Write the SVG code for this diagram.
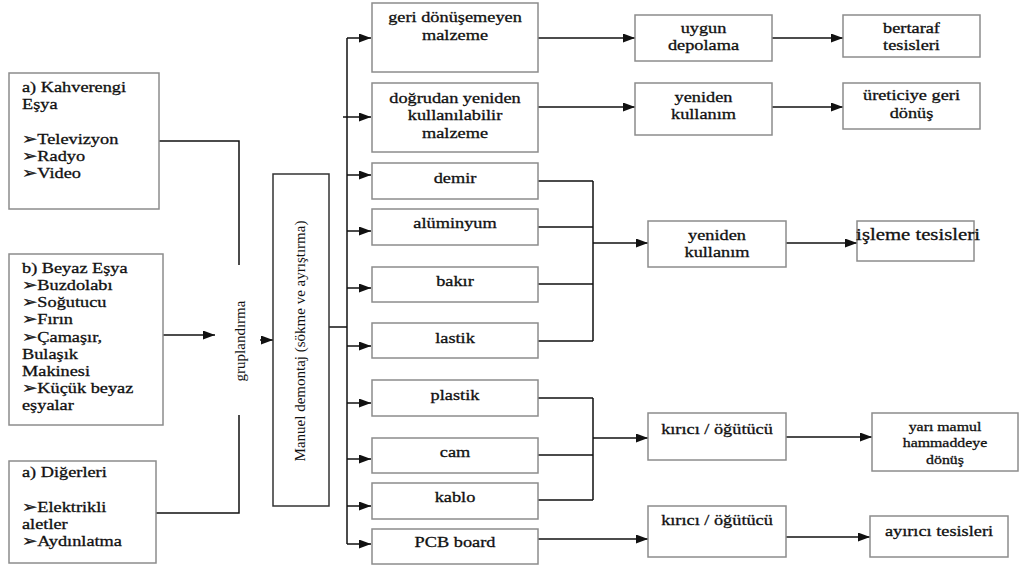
<svg xmlns="http://www.w3.org/2000/svg" width="1022" height="566" viewBox="0 0 1022 566">
<defs>
<marker id="ah" markerUnits="userSpaceOnUse" markerWidth="12" markerHeight="9" refX="12" refY="4.5" orient="auto">
<path d="M0,0 L12,4.5 L0,9 z" fill="#111"/>
</marker>
<style>
.box{fill:#fff;stroke:#8c8c8c;stroke-width:1.5}
.dark{fill:#fff;stroke:#333;stroke-width:1.5}
.t{font-family:"Liberation Serif","Times New Roman",serif;font-size:15px;fill:#111;stroke:#111;stroke-width:0.3;text-anchor:middle}
.tl{font-family:"Liberation Serif","Times New Roman",serif;font-size:15px;fill:#111;stroke:#111;stroke-width:0.3;text-anchor:start}
.tv{font-family:"Liberation Serif","Times New Roman",serif;font-size:15px;fill:#111;text-anchor:middle}
.sm{font-size:13px}
.ln{fill:none;stroke:#111;stroke-width:1.5}
.ar{fill:none;stroke:#111;stroke-width:1.5;marker-end:url(#ah)}
</style>
</defs>
<rect width="1022" height="566" fill="#fff"/>

<g id="connectors">
<path class="ln" d="M159,141 H239 V265"/>
<path class="ln" d="M156,513 H239 V415"/>
<path class="ar" d="M163,335 H215"/>
<path class="ar" d="M260,340 H273"/>
<path class="ln" d="M329,327 H347"/>
<path class="ln" d="M347,38 V544"/>
<path class="ar" d="M347,38 H371"/>
<path class="ar" d="M343,117 H371"/>
<path class="ar" d="M347,175 H371"/>
<path class="ar" d="M347,231 H371"/>
<path class="ar" d="M347,288 H371"/>
<path class="ar" d="M347,346 H371"/>
<path class="ar" d="M347,403 H371"/>
<path class="ar" d="M347,459 H371"/>
<path class="ar" d="M347,506 H371"/>
<path class="ar" d="M347,544 H371"/>
<path class="ar" d="M538,38 H635"/>
<path class="ar" d="M538,107 H635"/>
<path class="ar" d="M772,38 H843"/>
<path class="ar" d="M772,107 H843"/>
<path class="ln" d="M538,181 H593 M538,227 H593 M538,284 H593 M538,341 H593 M593,181 V341"/>
<path class="ar" d="M593,243 H648"/>
<path class="ar" d="M786,243 H857"/>
<path class="ln" d="M538,398 H593 M538,455 H593 M538,500 H593 M593,398 V500"/>
<path class="ar" d="M593,438 H648"/>
<path class="ar" d="M786,437 H872"/>
<path class="ar" d="M538,539 H648"/>
<path class="ar" d="M786,537 H870"/>
</g>

<g id="kahverengi">
<rect class="box" x="9" y="73" width="150" height="136"/>
<text class="tl" transform="translate(22,92) scale(1.22,1)">a) Kahverengi</text>
<text class="tl" transform="translate(22,109) scale(1.22,1)">Eşya</text>
<text class="tl" transform="translate(22,144) scale(1.22,1)">➢Televizyon</text>
<text class="tl" transform="translate(22,161) scale(1.22,1)">➢Radyo</text>
<text class="tl" transform="translate(22,178) scale(1.22,1)">➢Video</text>
</g>

<g id="beyaz">
<rect class="box" x="9" y="254" width="154" height="171"/>
<text class="tl" transform="translate(22,273) scale(1.22,1)">b) Beyaz Eşya</text>
<text class="tl" transform="translate(22,290) scale(1.22,1)">➢Buzdolabı</text>
<text class="tl" transform="translate(22,307) scale(1.22,1)">➢Soğutucu</text>
<text class="tl" transform="translate(22,324) scale(1.22,1)">➢Fırın</text>
<text class="tl" transform="translate(22,342) scale(1.22,1)">➢Çamaşır,</text>
<text class="tl" transform="translate(22,359) scale(1.22,1)">Bulaşık</text>
<text class="tl" transform="translate(22,376) scale(1.22,1)">Makinesi</text>
<text class="tl" transform="translate(22,393) scale(1.22,1)">➢Küçük beyaz</text>
<text class="tl" transform="translate(22,410) scale(1.22,1)">eşyalar</text>
</g>

<g id="digerleri">
<rect class="box" x="9" y="461" width="147" height="102"/>
<text class="tl" transform="translate(22,477) scale(1.22,1)">a) Diğerleri</text>
<text class="tl" transform="translate(22,512) scale(1.22,1)">➢Elektrikli</text>
<text class="tl" transform="translate(22,529) scale(1.22,1)">aletler</text>
<text class="tl" transform="translate(22,546) scale(1.22,1)">➢Aydınlatma</text>
</g>

<g id="gruplandirma">
<text class="tv" transform="translate(245,341) rotate(-90)">gruplandırma</text>
</g>

<g id="manuel">
<rect class="dark" x="273" y="174" width="56" height="332"/>
<text class="tv" transform="translate(305,341) rotate(-90)">Manuel demontaj (sökme ve ayrıştırma)</text>
</g>

<g id="geri">
<rect class="box" x="372" y="3" width="166" height="69"/>
<text class="t" transform="translate(455,22) scale(1.22,1)">geri dönüşemeyen</text>
<text class="t" transform="translate(455,40) scale(1.22,1)">malzeme</text>
</g>
<g id="dogrudan">
<rect class="box" x="372" y="83" width="166" height="69"/>
<text class="t" transform="translate(455,103) scale(1.22,1)">doğrudan yeniden</text>
<text class="t" transform="translate(455,120) scale(1.22,1)">kullanılabilir</text>
<text class="t" transform="translate(455,138) scale(1.22,1)">malzeme</text>
</g>
<g id="demir">
<rect class="box" x="372" y="163" width="166" height="36"/>
<text class="t" transform="translate(455,183) scale(1.22,1)">demir</text>
</g>
<g id="aluminyum">
<rect class="box" x="372" y="209" width="166" height="36"/>
<text class="t" transform="translate(455,228) scale(1.22,1)">alüminyum</text>
</g>
<g id="bakir">
<rect class="box" x="372" y="267" width="166" height="35"/>
<text class="t" transform="translate(455,286) scale(1.22,1)">bakır</text>
</g>
<g id="lastik">
<rect class="box" x="372" y="323" width="166" height="35"/>
<text class="t" transform="translate(455,343) scale(1.22,1)">lastik</text>
</g>
<g id="plastik">
<rect class="box" x="372" y="380" width="166" height="36"/>
<text class="t" transform="translate(455,400) scale(1.22,1)">plastik</text>
</g>
<g id="cam">
<rect class="box" x="372" y="438" width="166" height="35"/>
<text class="t" transform="translate(455,457) scale(1.22,1)">cam</text>
</g>
<g id="kablo">
<rect class="box" x="372" y="483" width="166" height="36"/>
<text class="t" transform="translate(455,502) scale(1.22,1)">kablo</text>
</g>
<g id="pcb">
<rect class="box" x="372" y="529" width="166" height="35"/>
<text class="t" transform="translate(455,547) scale(1.22,1)">PCB board</text>
</g>

<g id="uygun">
<rect class="box" x="635" y="15" width="137" height="46"/>
<text class="t" transform="translate(703.5,33) scale(1.22,1)">uygun</text>
<text class="t" transform="translate(703.5,50) scale(1.22,1)">depolama</text>
</g>
<g id="yeniden1">
<rect class="box" x="635" y="83" width="137" height="52"/>
<text class="t" transform="translate(703.5,102) scale(1.22,1)">yeniden</text>
<text class="t" transform="translate(703.5,119) scale(1.22,1)">kullanım</text>
</g>
<g id="yeniden2">
<rect class="box" x="648" y="221" width="138" height="46"/>
<text class="t" transform="translate(717,240) scale(1.22,1)">yeniden</text>
<text class="t" transform="translate(717,257) scale(1.22,1)">kullanım</text>
</g>
<g id="kirici1">
<rect class="box" x="648" y="413" width="138" height="47"/>
<text class="t" transform="translate(717,434) scale(1.22,1)">kırıcı / öğütücü</text>
</g>
<g id="kirici2">
<rect class="box" x="648" y="506" width="138" height="51"/>
<text class="t" transform="translate(717,525) scale(1.22,1)">kırıcı / öğütücü</text>
</g>

<g id="bertaraf">
<rect class="box" x="843" y="15" width="137" height="42"/>
<text class="t" transform="translate(911.5,33) scale(1.22,1)">bertaraf</text>
<text class="t" transform="translate(911.5,50) scale(1.22,1)">tesisleri</text>
</g>
<g id="ureticiye">
<rect class="box" x="843" y="83" width="137" height="46"/>
<text class="t" transform="translate(911.5,100) scale(1.22,1)">üreticiye geri</text>
<text class="t" transform="translate(911.5,118) scale(1.22,1)">dönüş</text>
</g>
<g id="isleme">
<rect class="box" x="857" y="221" width="117" height="40"/>
<text class="t" transform="translate(918,240) scale(1.22,1)" style="font-size:17px">işleme tesisleri</text>
</g>
<g id="yarimamul">
<rect class="box" x="872" y="413" width="146" height="58"/>
<text class="t sm" transform="translate(945,431) scale(1.22,1)">yarı mamul</text>
<text class="t sm" transform="translate(945,447) scale(1.22,1)">hammaddeye</text>
<text class="t sm" transform="translate(945,464) scale(1.22,1)">dönüş</text>
</g>
<g id="ayirici">
<rect class="box" x="870" y="516" width="138" height="41"/>
<text class="t" transform="translate(939,536) scale(1.22,1)">ayırıcı tesisleri</text>
</g>
</svg>
